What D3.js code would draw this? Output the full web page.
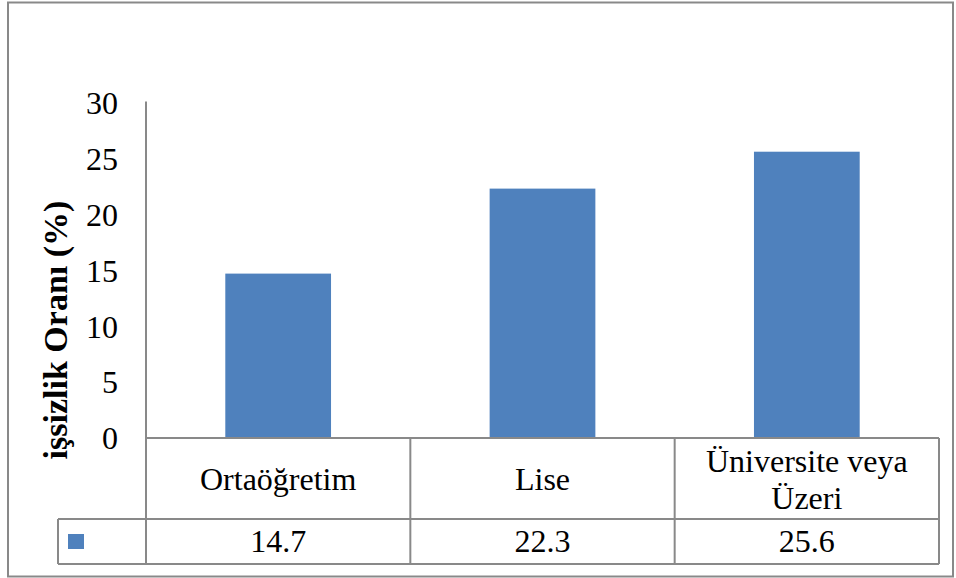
<!DOCTYPE html>
<html><head><meta charset="utf-8">
<script src="https://cdn.jsdelivr.net/npm/d3@7"></script>
<style>html,body{margin:0;padding:0;background:#fff;}</style>
</head><body>
<svg id="c" width="956" height="578" font-family="Times New Roman"></svg>
<script>
const categories = ["Ortaöğretim", "Lise", "Üniversite veya Üzeri"];
const categoryLines = [["Ortaöğretim"], ["Lise"], ["Üniversite veya", "Üzeri"]];
const values = [14.7, 22.3, 25.6];
const valueLabels = ["14.7", "22.3", "25.6"];
const yTicks = [0, 5, 10, 15, 20, 25, 30];
const yTitle = "işsizlik Oranı (%)";

(function () {
const svg = d3.select("#c");
const FF = '"Times New Roman"';
const fs = 32;
const grid = "#898989";

const pLeft = 146, pRight = 939, pTop = 102.5, base = 438, row1 = 519, pBottom = 564, tblLeft = 58;

svg.append("rect").attr("x", 8).attr("y", 2.5).attr("width", 945).attr("height", 574)
  .attr("fill", "#fff").attr("stroke", grid).attr("stroke-width", 2);

const x = d3.scaleBand().domain(categories).range([pLeft, pRight]).paddingInner(0).paddingOuter(0);
const y = d3.scaleLinear().domain([0, 30]).range([base, pTop]);

const bw = x.bandwidth() * 0.4;
svg.selectAll("rect.bar").data(values).join("rect").attr("class", "bar")
  .attr("x", (d, i) => x(categories[i]) + (x.bandwidth() - bw) / 2)
  .attr("y", d => y(d)).attr("width", bw).attr("height", d => base - y(d))
  .attr("fill", "#4f81bd");

const yAxis = d3.axisLeft(y).tickValues(yTicks).tickSize(0).tickPadding(28).tickFormat(d3.format("d"));
const ga = svg.append("g").attr("transform", `translate(${pLeft},0)`).call(yAxis);
ga.select(".domain").remove();
ga.attr("font-family", null).attr("font-size", null);
ga.selectAll("text").attr("class", "t").attr("fill", "#000").attr("dy", "0.34em");

const g = svg.append("g").attr("stroke", grid).attr("stroke-width", 2).attr("fill", "none");
g.append("line").attr("x1", pLeft).attr("x2", pLeft).attr("y1", pTop - 1).attr("y2", pBottom);
g.append("line").attr("x1", pLeft).attr("x2", pRight).attr("y1", base).attr("y2", base);
g.append("line").attr("x1", tblLeft).attr("x2", pRight).attr("y1", row1).attr("y2", row1);
g.append("line").attr("x1", tblLeft).attr("x2", pRight).attr("y1", pBottom).attr("y2", pBottom);
g.append("line").attr("x1", tblLeft).attr("x2", tblLeft).attr("y1", row1).attr("y2", pBottom);
categories.forEach(c => {
  g.append("line").attr("x1", x(c) + x.bandwidth()).attr("x2", x(c) + x.bandwidth()).attr("y1", base).attr("y2", pBottom);
});

const lh = 36.5;
categoryLines.forEach((lines, i) => {
  const cx = x(categories[i]) + x.bandwidth() / 2;
  const cy = (base + row1) / 2;
  const startY = cy - (lines.length - 1) * lh / 2;
  lines.forEach((t, j) => {
    svg.append("text").attr("class", "t").attr("x", cx).attr("y", startY + j * lh).attr("dy", "0.37em")
      .attr("text-anchor", "middle").text(t);
  });
});

valueLabels.forEach((t, i) => {
  svg.append("text").attr("class", "t").attr("x", x(categories[i]) + x.bandwidth() / 2).attr("y", (row1 + pBottom) / 2).attr("dy", "0.34em")
    .attr("text-anchor", "middle").text(t);
});
svg.append("rect").attr("x", 68).attr("y", 534).attr("width", 16).attr("height", 15).attr("fill", "#4f81bd");

svg.append("text").attr("class", "tb").attr("transform", `translate(55,330) rotate(-90)`)
  .attr("text-anchor", "middle").attr("dy", "0.34em").text(yTitle);

function applyFonts() {
  svg.selectAll("text.t").style("font-family", FF).style("font-weight", "400").style("font-size", fs + "px");
  svg.selectAll("text.tb").style("font-family", FF).style("font-weight", "700").style("font-size", "34px");
}
applyFonts();
if (document.fonts && document.fonts.load) {
  Promise.all([document.fonts.load('400 32px "Times New Roman"'), document.fonts.load('700 34px "Times New Roman"')])
    .then(() => { svg.selectAll("text.t,text.tb").style("font-family", null); applyFonts(); })
    .catch(() => {});
}
})();
</script>
</body></html>
